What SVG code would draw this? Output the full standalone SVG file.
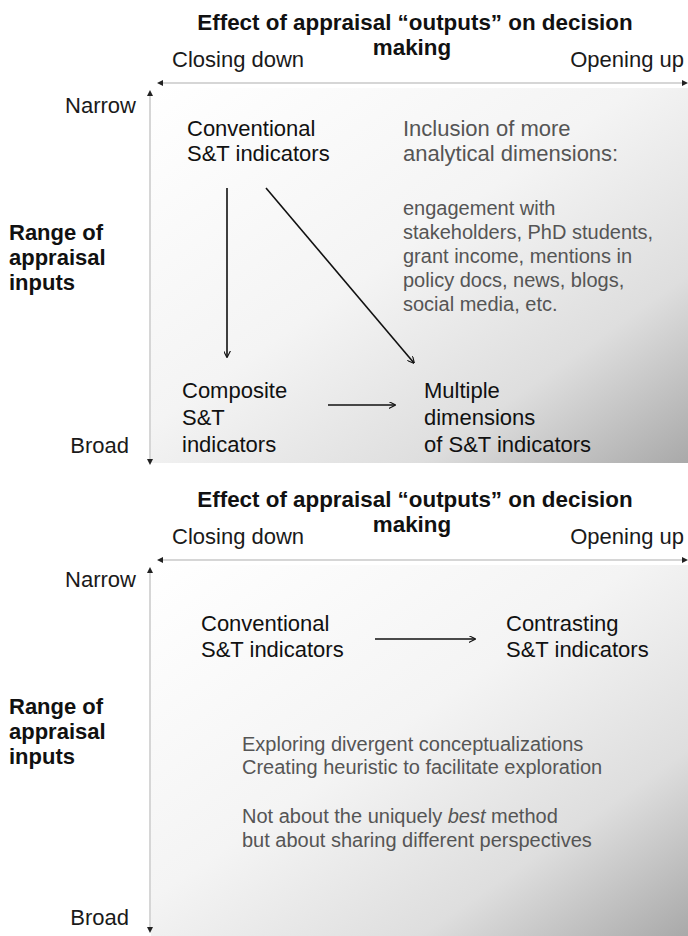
<svg xmlns="http://www.w3.org/2000/svg" width="688" height="936" viewBox="0 0 688 936">
  <style>
    text { font-family: "Liberation Sans", Arial, sans-serif; }
    .title { font-size: 22.4px; font-weight: bold; fill: #111; }
    .ax { font-size: 22px; fill: #1a1a1a; }
    .side { font-size: 22px; font-weight: bold; fill: #111; }
    .lbl { font-size: 22px; fill: #111; }
    .gray { font-size: 22px; fill: #555; }
    .small { font-size: 20px; fill: #555; }
    .note { font-size: 20px; fill: #555; }
    .axis { stroke: #c8c8c8; stroke-width: 1.5; fill: none; }
    .conn { stroke: #111; stroke-width: 1.6; fill: none; marker-end: url(#arr); }
  </style>
  <defs>
    <linearGradient id="bg" x1="0" y1="0" x2="1" y2="1">
      <stop offset="0" stop-color="#ffffff"/>
      <stop offset="0.45" stop-color="#f4f4f4"/>
      <stop offset="0.75" stop-color="#dedede"/>
      <stop offset="1" stop-color="#a9a9a9"/>
    </linearGradient>
    <marker id="arr" viewBox="0 0 10 10" refX="9" refY="5" markerWidth="7" markerHeight="7" orient="auto" markerUnits="userSpaceOnUse">
      <path d="M0,0 L10,5 L0,10" fill="none" stroke="#111" stroke-width="1.6"/>
    </marker>
    <marker id="tri" viewBox="0 0 10 10" refX="5" refY="5" markerWidth="6" markerHeight="6" orient="auto-start-reverse" markerUnits="userSpaceOnUse">
      <path d="M0,0 L10,5 L0,10 Z" fill="#222"/>
    </marker>
  </defs>

  <!-- Top panel -->
  <g id="panel-top">
    <rect x="151" y="88" width="537" height="375" fill="url(#bg)"/>
    <line class="axis" x1="160" y1="83" x2="685" y2="83" marker-start="url(#tri)" marker-end="url(#tri)"/>
    <line class="axis" x1="150" y1="93" x2="150" y2="462" marker-start="url(#tri)" marker-end="url(#tri)"/>
    <text class="title" x="415" y="30" text-anchor="middle">Effect of appraisal “outputs” on decision</text>
    <text class="title" x="412" y="55" text-anchor="middle">making</text>
    <text class="ax" x="172" y="67">Closing down</text>
    <text class="ax" x="684" y="67" text-anchor="end">Opening up</text>
    <text class="ax" x="136" y="113" text-anchor="end">Narrow</text>
    <text class="ax" x="129" y="453" text-anchor="end">Broad</text>
    <text class="side" x="9" y="240">Range of</text>
    <text class="side" x="9" y="265">appraisal</text>
    <text class="side" x="9" y="290">inputs</text>
  </g>
  <g id="t-conventional">
    <text class="lbl" x="187" y="136">Conventional</text>
    <text class="lbl" x="187" y="161">S&amp;T indicators</text>
  </g>
  <g id="t-inclusion">
    <text class="gray" x="403" y="136">Inclusion of more</text>
    <text class="gray" x="403" y="161">analytical dimensions:</text>
    <text class="small" x="403" y="215">engagement with</text>
    <text class="small" x="403" y="239">stakeholders, PhD students,</text>
    <text class="small" x="403" y="263">grant income, mentions in</text>
    <text class="small" x="403" y="287">policy docs, news, blogs,</text>
    <text class="small" x="403" y="311">social media, etc.</text>
  </g>
  <g id="t-composite">
    <text class="lbl" x="182" y="398">Composite</text>
    <text class="lbl" x="182" y="425">S&amp;T</text>
    <text class="lbl" x="182" y="452">indicators</text>
  </g>
  <g id="t-multiple">
    <text class="lbl" x="424" y="398">Multiple</text>
    <text class="lbl" x="424" y="425">dimensions</text>
    <text class="lbl" x="424" y="452">of S&amp;T indicators</text>
  </g>

  <!-- Bottom panel -->
  <g id="panel-bottom">
    <rect x="151" y="565" width="537" height="371" fill="url(#bg)"/>
    <line class="axis" x1="160" y1="560" x2="685" y2="560" marker-start="url(#tri)" marker-end="url(#tri)"/>
    <line class="axis" x1="150" y1="570" x2="150" y2="930" marker-start="url(#tri)" marker-end="url(#tri)"/>
    <text class="title" x="415" y="507" text-anchor="middle">Effect of appraisal “outputs” on decision</text>
    <text class="title" x="412" y="532" text-anchor="middle">making</text>
    <text class="ax" x="172" y="544">Closing down</text>
    <text class="ax" x="684" y="544" text-anchor="end">Opening up</text>
    <text class="ax" x="136" y="587" text-anchor="end">Narrow</text>
    <text class="ax" x="129" y="925" text-anchor="end">Broad</text>
    <text class="side" x="9" y="714">Range of</text>
    <text class="side" x="9" y="739">appraisal</text>
    <text class="side" x="9" y="764">inputs</text>
  </g>
  <g id="b-conventional">
    <text class="lbl" x="201" y="631">Conventional</text>
    <text class="lbl" x="201" y="657">S&amp;T indicators</text>
  </g>
  <g id="b-contrasting">
    <text class="lbl" x="506" y="631">Contrasting</text>
    <text class="lbl" x="506" y="657">S&amp;T indicators</text>
  </g>
  <g id="b-notes">
    <text class="note" x="242" y="751">Exploring divergent conceptualizations</text>
    <text class="note" x="242" y="774">Creating heuristic to facilitate exploration</text>
    <text class="note" x="242" y="823">Not about the uniquely <tspan font-style="italic">best</tspan> method</text>
    <text class="note" x="242" y="847">but about sharing different perspectives</text>
  </g>

  <g id="connectors">
    <line class="conn" x1="227" y1="188" x2="227" y2="357"/>
    <line class="conn" x1="266" y1="188" x2="414" y2="363"/>
    <line class="conn" x1="328" y1="405" x2="395" y2="405"/>
    <line class="conn" x1="375" y1="639" x2="475" y2="639"/>
  </g>
</svg>
